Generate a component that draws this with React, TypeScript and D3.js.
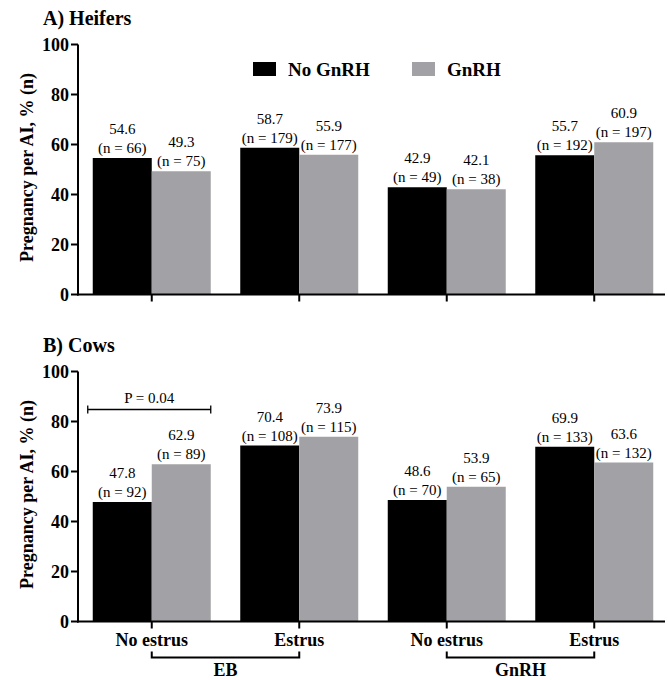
import React from "react";
import * as d3 from "d3";

const groups = ["EB-No estrus", "EB-Estrus", "GnRH-No estrus", "GnRH-Estrus"];
const groupLabels = ["No estrus", "Estrus", "No estrus", "Estrus"];
const series = ["No GnRH", "GnRH"];
const heiferNoGnRH = [54.6, 58.7, 42.9, 55.7];
const heiferGnRH = [49.3, 55.9, 42.1, 60.9];
const heiferNNo = [66, 179, 49, 192];
const heiferNG = [75, 177, 38, 197];
const cowNoGnRH = [47.8, 70.4, 48.6, 69.9];
const cowGnRH = [62.9, 73.9, 53.9, 63.6];
const cowNNo = [92, 108, 70, 133];
const cowNG = [89, 115, 65, 132];
const yTicks = [0, 20, 40, 60, 80, 100];
const treatments = ["EB", "GnRH"];

const colors = ["#000000", "#a2a2a6"];
const font = "Liberation Serif, Tinos, Times New Roman, DejaVu Serif, serif";

const x0 = d3.scaleBand<string>().domain(groups).range([78, 668]).paddingInner(0.2).paddingOuter(0.1);
const x1 = d3.scaleBand<string>().domain(series).range([0, x0.bandwidth()]);

const T = (p: any) => <text {...p} style={{ fontFamily: font, ...(p.style || {}) }} />;

function Panel({ top, title, vals, ns, showX, pValue }: any) {
  const y = d3.scaleLinear().domain([0, 100]).range([top + 250, top]);
  const yb = y(0);
  return (
    <g>
      <T x={43} y={top - 20} fontWeight="bold" fontSize={20}>{title}</T>
      <T transform={`translate(33,${top + 123}) rotate(-90)`} textAnchor="middle" fontWeight="bold" fontSize={18}>
        Pregnancy per AI, % (n)
      </T>
      {groups.map((g, gi) =>
        series.map((s, si) => {
          const v = vals[si][gi];
          const bx = (x0(g) as number) + (x1(s) as number);
          const cx = bx + x1.bandwidth() / 2;
          return (
            <g key={g + s}>
              <rect x={bx} y={y(v)} width={x1.bandwidth()} height={yb - y(v)} fill={colors[si]} />
              <T x={cx} y={y(v) - 24} textAnchor="middle" fontSize={15}>{v.toFixed(1)}</T>
              <T x={cx} y={y(v) - 5} textAnchor="middle" fontSize={15}>{`(n = ${ns[si][gi]})`}</T>
            </g>
          );
        })
      )}
      <line x1={78} x2={78} y1={top} y2={yb + 1} stroke="#000" strokeWidth={2} />
      <line x1={77} x2={665} y1={yb} y2={yb} stroke="#000" strokeWidth={2} />
      {yTicks.map((t) => (
        <g key={t}>
          <line x1={71} x2={78} y1={y(t)} y2={y(t)} stroke="#000" strokeWidth={2} />
          <T x={69} y={y(t)} dy="0.35em" textAnchor="end" fontWeight="bold" fontSize={18}>{t}</T>
        </g>
      ))}
      {groups.map((g) => {
        const c = (x0(g) as number) + x0.bandwidth() / 2;
        return <line key={g} x1={c} x2={c} y1={yb} y2={yb + 7} stroke="#000" strokeWidth={2} />;
      })}
      {showX && groups.map((g, gi) => {
        const c = (x0(g) as number) + x0.bandwidth() / 2;
        return (
          <T key={g} x={c} y={yb + 24} textAnchor="middle" fontWeight="bold" fontSize={18}>{groupLabels[gi]}</T>
        );
      })}
      {showX && treatments.map((t, ti) => {
        const a = (x0(groups[ti * 2]) as number) + x0.bandwidth() / 2;
        const b = (x0(groups[ti * 2 + 1]) as number) + x0.bandwidth() / 2;
        return (
          <g key={t}>
            <path d={`M${a},${yb + 30}V${yb + 36}H${b}V${yb + 30}`} fill="none" stroke="#000" strokeWidth={2} />
            <T x={(a + b) / 2} y={yb + 54} textAnchor="middle" fontWeight="bold" fontSize={18}>{t}</T>
          </g>
        );
      })}
      {pValue && (() => {
        const a = (x0(groups[0]) as number) - 5;
        const b = (x0(groups[0]) as number) + x0.bandwidth();
        const py = y(84.8);
        return (
          <g>
            <path d={`M${a},${py - 4}V${py + 4}M${a},${py}H${b}M${b},${py - 4}V${py + 4}`} fill="none" stroke="#000" strokeWidth={1.3} />
            <T x={(a + b) / 2} y={py - 7} textAnchor="middle" fontSize={15}>{pValue}</T>
          </g>
        );
      })()}
    </g>
  );
}

export default function App() {
  return (
    <svg width={668} height={680} style={{ display: "block", position: "absolute", left: 0, top: 0 }}>
      <rect width={668} height={680} fill="#fff" />
      <Panel top={44.5} title="A) Heifers" vals={[heiferNoGnRH, heiferGnRH]} ns={[heiferNNo, heiferNG]} showX={false} />
      <Panel top={371.5} title="B) Cows" vals={[cowNoGnRH, cowGnRH]} ns={[cowNNo, cowNG]} showX={true} pValue="P = 0.04" />
      <g>
        {series.map((s, i) => {
          const lx = i === 0 ? 253 : 412;
          return (
            <g key={s}>
              <rect x={lx} y={62} width={23} height={14} fill={colors[i]} />
              <T x={lx + 35} y={76} fontWeight="bold" fontSize={19}>{s}</T>
            </g>
          );
        })}
      </g>
    </svg>
  );
}
